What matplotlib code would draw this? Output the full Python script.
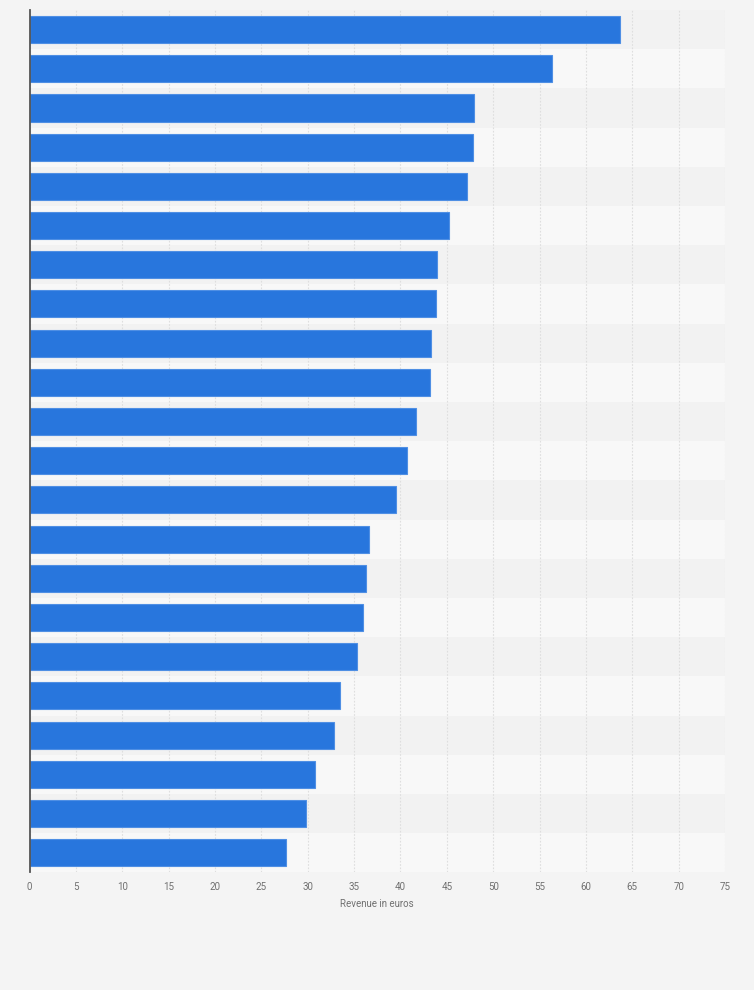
import matplotlib
matplotlib.use("Agg")
import matplotlib.pyplot as plt
import numpy as np

plt.rcParams['font.family'] = ['Roboto', 'DejaVu Sans']

# Data (top to bottom)
values = [63.66, 56.36, 47.97, 47.86, 47.21, 45.26, 43.96, 43.85, 43.31, 43.2,
          41.65, 40.67, 39.48, 36.56, 36.34, 35.91, 35.37, 33.53, 32.88, 30.82,
          29.85, 27.68]
x_ticks = [0, 5, 10, 15, 20, 25, 30, 35, 40, 45, 50, 55, 60, 65, 70, 75]
x_label = "Revenue in euros"

fig = plt.figure(figsize=(7.54, 9.90), dpi=100)
fig.patch.set_facecolor('#f4f4f4')
ax = fig.add_axes([29.5/754, 1 - 872.3/990, (725 - 29.5)/754, (872.3 - 10)/990])
ax.set_facecolor('#f4f4f4')

n = len(values)
y = np.arange(n)

# alternating bands
for i in range(n):
    ax.axhspan(i - 0.5, i + 0.5, color='#f2f2f2' if i % 2 == 0 else '#f8f8f8',
               zorder=0, lw=0)

ax.barh(y, values, height=0.69, color='#2876dd', edgecolor='#4f8fe4',
        linewidth=0.8, zorder=3)

ax.set_xlim(0, 75)
ax.set_ylim(n - 0.5, -0.5)
ax.set_xticks(x_ticks)
ax.set_xticklabels([str(t) for t in x_ticks])
ax.set_yticks([])
ax.grid(axis='x', color='#dedede', linestyle=(0, (1.5, 1.5)), linewidth=0.8, zorder=1)
ax.set_axisbelow(True)

for s in ['top', 'right', 'bottom']:
    ax.spines[s].set_visible(False)
ax.spines['left'].set_color('#555555')
ax.spines['left'].set_linewidth(1.3)
ax.spines['left'].set_zorder(5)

ax.tick_params(axis='x', length=0, pad=7, labelsize=7, labelcolor='#707070')
for lbl in ax.get_xticklabels():
    lbl.set_x(lbl.get_position()[0])
ax.set_xlabel(x_label, fontsize=7, color='#707070', labelpad=5)

fig.savefig('out.png', dpi=100, facecolor=fig.get_facecolor())
